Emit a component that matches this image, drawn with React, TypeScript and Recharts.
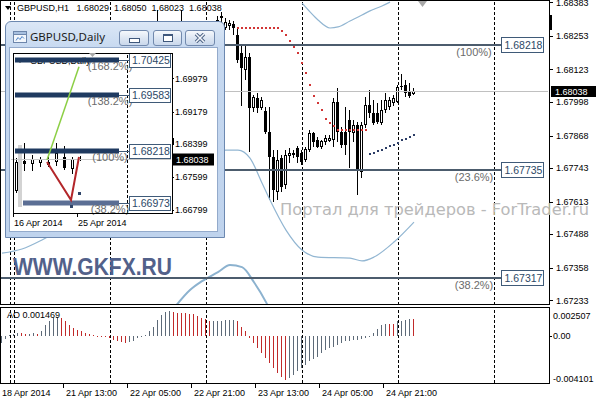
import React from 'react'
import { ComposedChart, Bar, Line, XAxis, YAxis, ReferenceLine, Cell } from 'recharts'

const FONT = '"Liberation Sans", Arial, sans-serif'
const UI_FONT = '"Noto Sans", "DejaVu Sans", sans-serif'

const H1_TITLE = 'GBPUSD,H1'
const DAILY_TITLE = 'GBPUSD,Daily'

// ---------- hourly chart (one slot per bar, the tail is chart shift) ----------
const SLOT_COUNT = 137
const FIRST_CANDLE_SLOT = 36

const opens = [
  1.68024, 1.68082, 1.68159, 1.68256, 1.68294, 1.68256, 1.68275, 1.68237, 1.68267, 1.68283,
  1.68275, 1.68244, 1.68256, 1.68229, 1.68244, 1.68237, 1.6826, 1.68275, 1.68291, 1.68322,
  1.68283, 1.68291, 1.68298, 1.68256, 1.68186, 1.68121, 1.68171, 1.67974, 1.68013, 1.67974,
  1.67963, 1.67881, 1.67785, 1.6765, 1.67781, 1.67677, 1.67789, 1.67793, 1.6782, 1.678,
  1.67773, 1.67812, 1.67877, 1.67851, 1.67824, 1.67843, 1.67847, 1.67851, 1.67997, 1.67881,
  1.67881, 1.67928, 1.67877, 1.67908, 1.67727, 1.67908, 1.67986, 1.67955, 1.67955, 1.67916,
  1.67966, 1.67978, 1.67993, 1.67997, 1.68055, 1.68063, 1.68036, 1.68029,
]
const highs = [
  1.68121, 1.68179, 1.68275, 1.68352, 1.68306, 1.68294, 1.68294, 1.68283, 1.68298, 1.68352,
  1.68291, 1.68275, 1.68275, 1.68264, 1.68267, 1.68275, 1.68294, 1.68306, 1.68329, 1.68345,
  1.68322, 1.68314, 1.6831, 1.68287, 1.68217, 1.68217, 1.68186, 1.68024, 1.68032, 1.68017,
  1.67978, 1.67978, 1.67812, 1.67812, 1.67793, 1.67812, 1.6782, 1.67812, 1.67827, 1.67812,
  1.67824, 1.67889, 1.67881, 1.67862, 1.67851, 1.6787, 1.6787, 1.68013, 1.68051, 1.67901,
  1.67978, 1.67966, 1.67928, 1.6792, 1.6792, 1.68017, 1.68044, 1.68005, 1.67993, 1.68005,
  1.68032, 1.68017, 1.68024, 1.68063, 1.68105, 1.68082, 1.68071, 1.6805,
]
const lows = [
  1.68005, 1.68063, 1.68152, 1.68237, 1.68237, 1.68217, 1.68198, 1.68217, 1.68244, 1.68256,
  1.68221, 1.68213, 1.68198, 1.68206, 1.68206, 1.68217, 1.68237, 1.68252, 1.68275, 1.68298,
  1.68275, 1.68275, 1.68256, 1.68148, 1.67982, 1.68082, 1.67804, 1.67959, 1.67955, 1.67966,
  1.67874, 1.67619, 1.67611, 1.67619, 1.6765, 1.67662, 1.67762, 1.67781, 1.67762, 1.67754,
  1.67766, 1.67804, 1.67824, 1.6782, 1.67816, 1.67831, 1.67843, 1.67824, 1.67843, 1.6782,
  1.67793, 1.67743, 1.67843, 1.67638, 1.67704, 1.67897, 1.67936, 1.67908, 1.67912, 1.67908,
  1.67955, 1.67966, 1.67982, 1.67993, 1.68044, 1.68017, 1.68013, 1.68023,
]
const closes = [
  1.68082, 1.68159, 1.68256, 1.68294, 1.68256, 1.68275, 1.68237, 1.68267, 1.68283, 1.68275,
  1.68244, 1.68256, 1.68229, 1.68244, 1.68237, 1.6826, 1.68275, 1.68291, 1.68314, 1.68329,
  1.68306, 1.68302, 1.68283, 1.68159, 1.68129, 1.68171, 1.67974, 1.68017, 1.67974, 1.68005,
  1.67881, 1.67785, 1.67658, 1.67773, 1.67669, 1.67793, 1.678, 1.678, 1.67785, 1.67766,
  1.67816, 1.67877, 1.67843, 1.67824, 1.67847, 1.67858, 1.67858, 1.67997, 1.67881, 1.67831,
  1.67831, 1.67881, 1.67908, 1.67735, 1.67908, 1.67986, 1.67955, 1.67916, 1.6792, 1.67966,
  1.68005, 1.68005, 1.68013, 1.68055, 1.68059, 1.68032, 1.6802, 1.68038,
]

// Awesome Oscillator, from slot 0
const aoValues = [
  -0.00064, -0.00029, 0.0001, 0.00015, 0.00023, 0.00021, 0.00019, 0.0002, 0.00022, 0.00016,
  0.00046, 0.00096, 0.00125, 0.00154, 0.00168, 0.00154, 0.00125, 0.00096, 0.00067, 0.00052,
  0.00038, 0.00023, 0.00012, 0.00005, 0.00002, -0.00002, -0.00008, -0.0002, -0.00035, -0.00043,
  -0.00052, -0.00058, -0.00052, -0.00041, -0.0002, -0.00006, 0.00009, 0.00038, 0.00081, 0.00139,
  0.00183, 0.00203, 0.00212, 0.00203, 0.002, 0.00197, 0.00196, 0.00194, 0.00186, 0.00174,
  0.00157, 0.00145, 0.0013, 0.00131, 0.00132, 0.00133, 0.00134, 0.00135, 0.00136, 0.00125,
  0.00081, 0.00038, -0.0002, -0.00064, -0.00107, -0.00151, -0.00194, -0.00238, -0.00281, -0.00325,
  -0.00362, -0.00383, -0.00368, -0.00339, -0.0031, -0.00281, -0.00252, -0.00223, -0.00203, -0.0018,
  -0.00151, -0.00122, -0.00107, -0.00093, -0.00078, -0.00064, -0.00049, -0.00041, -0.0004, -0.00039,
  -0.00029, -0.0002, -0.00006, 0.00023, 0.00058, 0.00096, 0.00104, 0.00102, 0.001, 0.00125,
  0.00133, 0.00139, 0.00149, 0.001469,
]
const AO_UP = '#5d6a78'
const AO_DOWN = '#c02a2a'

// Parabolic SAR dots
const SAR_DOWN_START = 59
const sarDownValues = [
  1.68283, 1.68283, 1.68283, 1.68283, 1.68283, 1.68283, 1.68283, 1.68283, 1.68283, 1.68283, 1.68283,
  1.68272, 1.68256, 1.68234, 1.68211, 1.68185, 1.68149, 1.6811, 1.68063, 1.6802, 1.67995, 1.67966,
  1.67931, 1.67915, 1.67905, 1.67889, 1.67889, 1.67889, 1.67889, 1.67889, 1.67889, 1.67889, 1.67889,
]
const SAR_UP_START = 92
const sarUpValues = [
  1.67797, 1.67802, 1.67808, 1.67814, 1.6782, 1.67827, 1.67833, 1.67841, 1.67849, 1.67854, 1.67862, 1.6787,
]

// Bollinger bands (read at a few bars, drawn as smooth curves)
const upperBandSlots = [75, 77, 79, 82, 84, 87, 90, 92, 95, 97]
const upperBandValues = [1.68379, 1.68345, 1.68314, 1.68283, 1.68287, 1.6831, 1.68333, 1.68349, 1.68368, 1.68383]
const lowerBandSlots = [0, 5, 10, 20, 30, 40, 50, 56, 59, 62, 65, 67, 71, 75, 79, 87, 90, 93, 98, 103]
const lowerBandValues = [
  1.67414, 1.6743, 1.67465, 1.67561, 1.67658, 1.67735, 1.67793, 1.67812, 1.67812, 1.67781,
  1.67685, 1.67619, 1.67503, 1.67426, 1.67399, 1.67395, 1.67384, 1.67399, 1.67457, 1.67534,
]
const outerBandSlots = [43, 47, 50, 54, 57, 60, 63, 66, 67]
const outerBandValues = [1.67202, 1.67272, 1.67306, 1.67341, 1.67368, 1.6736, 1.67302, 1.67225, 1.67194]

const daySeparatorSlots = [2, 3, 27, 51, 75, 99, 123]
const timeTickSlots = [0, 16, 32, 48, 64, 80, 96]
const timeTickLabels = ['18 Apr 2014', '21 Apr 13:00', '22 Apr 05:00', '22 Apr 21:00', '23 Apr 13:00', '24 Apr 05:00', '24 Apr 21:00']

const priceDomain = [1.67214, 1.68391]
const priceTicks = [1.68383, 1.68253, 1.68123, 1.67998, 1.67868, 1.67743, 1.67613, 1.67488, 1.67358, 1.67233]
const fibPrices = [1.68218, 1.67735, 1.67317]
const fibNames = ['(100%)', '(23.6%)', '(38.2%)']
const bidPrice = 1.68038

const aoDomain = [-0.004101, 0.002507]
const aoTicks = [0.002507, 0, -0.004101]

// ---------- daily chart (inset window) ----------
const DAILY_SLOT_COUNT = 20
const dailyOpens = [1.67263, 1.67982, 1.67909, 1.67941, 1.67966, 1.67965, 1.68086, 1.67781, 1.67997]
const dailyHighs = [1.68054, 1.68425, 1.68127, 1.68086, 1.68086, 1.68425, 1.68345, 1.68086, 1.68105]
const dailyLows = [1.67208, 1.67747, 1.67747, 1.67844, 1.67844, 1.67868, 1.67764, 1.67667, 1.6799]
const dailyCloses = [1.67965, 1.67909, 1.68023, 1.68023, 1.67886, 1.68183, 1.67805, 1.68023, 1.68038]
const dailyTickSlots = [0, 8]
const dailyTickLabels = ['16 Apr 2014', '25 Apr 2014']
const dailyDomain = [1.66724, 1.70594]
const dailyPriceTicks = [1.69979, 1.69179, 1.68399, 1.67599, 1.66799]
const dailyFibPrices = [1.70425, 1.69583, 1.68218, 1.66973]
const dailyFibNames = ['(168.2%)', '(138.2%)', '(100%)', '(38.2%)']
const dailyFibFrom = [0, 0, 0, 1]
const DAILY_FIB_TO = 13
const DAILY_SHIFT_SLOT = 14
const dailySarSlots = [7, 8]
const dailySarValues = [1.66901, 1.67201]
const greenSlots = [4, 8]
const greenValues = [1.68006, 1.70263]
const redSlots = [4, 7, 8]
const redValues = [1.67958, 1.67038, 1.68079]
const MARKER_SLOT = 1
const markerRange = [1.66869, 1.68369]

// ---------- rows ----------
const putSeries = (rows: any[], key: string, slots: number[], values: number[]) => {
  slots.forEach((s, j) => { rows[s][key] = values[j] })
}

const h1Rows: any[] = Array.from({ length: SLOT_COUNT }, (_, slot) => {
  const row: any = { slot }
  const k = slot - FIRST_CANDLE_SLOT
  if (k >= 0 && k < opens.length) {
    row.open = opens[k]
    row.high = highs[k]
    row.low = lows[k]
    row.close = closes[k]
    row.range = [lows[k], highs[k]]
  }
  if (slot < aoValues.length) row.ao = aoValues[slot]
  return row
})
putSeries(h1Rows, 'sarDown', sarDownValues.map((_, j) => SAR_DOWN_START + j), sarDownValues)
putSeries(h1Rows, 'sarUp', sarUpValues.map((_, j) => SAR_UP_START + j), sarUpValues)
putSeries(h1Rows, 'bandHigh', upperBandSlots, upperBandValues)
putSeries(h1Rows, 'bandLow', lowerBandSlots, lowerBandValues)
putSeries(h1Rows, 'bandOuter', outerBandSlots, outerBandValues)

// grey while the oscillator rises, red while it falls
const aoColors = h1Rows.map((r) => (r.slot === 0 || (r.ao ?? 0) >= (aoValues[r.slot - 1] ?? 0) ? AO_UP : AO_DOWN))

const dailyRows: any[] = Array.from({ length: DAILY_SLOT_COUNT }, (_, slot) => {
  const row: any = { slot }
  if (slot < dailyOpens.length) {
    row.open = dailyOpens[slot]
    row.high = dailyHighs[slot]
    row.low = dailyLows[slot]
    row.close = dailyCloses[slot]
    row.range = [dailyLows[slot], dailyHighs[slot]]
  }
  return row
})
dailyRows[MARKER_SLOT].marker = markerRange
putSeries(dailyRows, 'sar', dailySarSlots, dailySarValues)
putSeries(dailyRows, 'green', greenSlots, greenValues)
putSeries(dailyRows, 'red', redSlots, redValues)

// ---------- shapes ----------
const renderCandle = (props: any) => {
  const { x, y, width, height, payload } = props
  if (!payload || payload.high == null || y == null || isNaN(y)) return <g />
  const top = Math.min(y, y + height)
  const h = Math.abs(height)
  const span = payload.high - payload.low || 1e-9
  const toY = (v: number) => top + ((payload.high - v) / span) * h
  const col = Math.floor(x + width / 2)
  const b1 = Math.round(toY(Math.max(payload.open, payload.close)))
  const b2 = Math.round(toY(Math.min(payload.open, payload.close)))
  const bull = payload.close >= payload.open
  let body
  if (b2 - b1 < 2) body = <rect x={col - 1} y={b1} width={3} height={1} fill="#000" />
  else if (bull) body = <rect x={col - 0.5} y={b1 + 0.5} width={2} height={b2 - b1 - 1} fill="#fff" stroke="#000" />
  else body = <rect x={col - 1} y={b1} width={3} height={b2 - b1} fill="#000" />
  return (
    <g>
      <line x1={col + 0.5} x2={col + 0.5} y1={Math.round(top)} y2={Math.round(top + h)} stroke="#000" />
      {body}
    </g>
  )
}

const renderAoBar = (props: any) => {
  const { x, y, width, height, payload, fill } = props
  if (!payload || payload.ao == null || y == null || isNaN(y)) return <g />
  const col = Math.floor(x + width / 2)
  const t = Math.round(Math.min(y, y + height))
  const b = Math.round(Math.max(y, y + height))
  return <rect x={col} y={t} width={1} height={Math.max(b - t, 1)} fill={fill} stroke="none" />
}

const renderMarker = (props: any) => {
  const { x, y, width, height, payload } = props
  if (!payload || payload.marker == null || y == null || isNaN(y)) return <g />
  const col = Math.floor(x + width / 2)
  return <rect x={col - 2} y={Math.min(y, y + height)} width={4} height={Math.abs(height)} fill="#d3d3d3" />
}

const sarDot = (color: string, size: number) => (p: any) => {
  if (p.cy == null || p.value == null || isNaN(p.cy)) return <g key={`d${p.index}`} />
  return (
    <rect key={`d${p.index}`} x={Math.floor(p.cx) - Math.floor(size / 2)} y={Math.round(p.cy) - Math.floor(size / 2)}
      width={size} height={size} fill={color} />
  )
}

const separatorShape = (p: any) => {
  const x = Math.floor(p.x1) + 0.5
  return <line x1={x} x2={x} y1={p.y1} y2={p.y2} stroke="#000" strokeDasharray="3 2" />
}

const mainFibShape = (j: number) => (p: any) => {
  const y = Math.round(p.y1)
  const left = Math.min(p.x1, p.x2)
  const right = Math.max(p.x1, p.x2)
  const boxX = right - 46.5
  return (
    <g>
      <line x1={left} x2={boxX} y1={y} y2={y} stroke="#4c5c6d" strokeWidth={2} />
      <text x={right - 74} y={y + 11} textAnchor="middle" fontSize={11} fontFamily={FONT} fill="#6b6b6b">{fibNames[j]}</text>
      <rect x={boxX} y={y - 7.5} width={42} height={15} fill="#fff" stroke="#3f5a78" />
      <text x={boxX + 3} y={y + 4} fontSize={10.5} fontFamily={FONT} fill="#2c4866">{fibPrices[j].toFixed(5)}</text>
    </g>
  )
}

const mainBidShape = (p: any) => {
  const y = Math.round(p.y1) + 0.5
  const right = Math.max(p.x1, p.x2)
  return (
    <g>
      <line x1={Math.min(p.x1, p.x2)} x2={right} y1={y} y2={y} stroke="#c0c0c0" />
      <rect x={right + 3} y={y - 5.5} width={45} height={11} fill="#000" />
      <text x={right + 7} y={y + 3.5} fontSize={9} fontFamily={FONT} fill="#fff">{bidPrice.toFixed(5)}</text>
    </g>
  )
}

const dailyFibShape = (j: number) => (p: any) => {
  const y = Math.round(p.y1)
  const right = Math.max(p.x1, p.x2)
  return (
    <g>
      <line x1={Math.min(p.x1, p.x2)} x2={right} y1={y} y2={y} stroke={j === 3 ? '#5b6e94' : '#1f3a60'} strokeWidth={5} />
      <line x1={right} x2={right + 10} y1={y + 0.5} y2={y + 0.5} stroke="#3f5a78" />
      <text x={right - 9} y={y + 10} textAnchor="middle" fontSize={11} fontFamily={FONT} fill="#6b6b6b">{dailyFibNames[j]}</text>
      <rect x={right + 10.5} y={y - 6.5} width={41} height={14} fill="#fff" stroke="#3f5a78" />
      <text x={right + 13} y={y + 4} fontSize={10.5} fontFamily={FONT} fill="#2c4866">{dailyFibPrices[j].toFixed(5)}</text>
    </g>
  )
}

const dailyBidShape = (p: any) => {
  const y = Math.round(p.y1) + 0.5
  const right = Math.max(p.x1, p.x2)
  return (
    <g>
      <line x1={Math.min(p.x1, p.x2)} x2={right} y1={y} y2={y} stroke="#c8c8c8" />
      <rect x={right + 2} y={y - 6} width={41} height={12} fill="#000" />
      <text x={right + 5} y={y + 3.5} fontSize={9} fontFamily={FONT} fill="#fff">{bidPrice.toFixed(5)}</text>
    </g>
  )
}

// ---------- ticks ----------
const PriceTick = (props: any) => {
  const { x, y, payload } = props
  const yy = Math.round(y) + 0.5
  return (
    <g>
      <line x1={x + 2} x2={x + 5} y1={yy} y2={yy} stroke="#000" />
      <text x={x + 8} y={y + 3.5} fontSize={9} fontFamily={FONT} fill="#000">{payload.value.toFixed(5)}</text>
    </g>
  )
}

const DailyPriceTick = (props: any) => {
  const { x, y, payload } = props
  const yy = Math.round(y) + 0.5
  return (
    <g>
      <line x1={x + 1} x2={x + 3} y1={yy} y2={yy} stroke="#000" />
      <text x={x + 4} y={y + 3.5} fontSize={9} fontFamily={FONT} fill="#000">{payload.value.toFixed(5)}</text>
    </g>
  )
}

const AoTick = (props: any) => {
  const { x, y, payload } = props
  const v = payload.value
  const dy = v === aoTicks[0] ? 11.5 : v === aoTicks[2] ? -1.5 : 3.5
  return (
    <g>
      {v === 0 && <line x1={x + 2} x2={x + 4} y1={Math.round(y) + 0.5} y2={Math.round(y) + 0.5} stroke="#000" />}
      <text x={x + 5} y={y + dy} fontSize={9} fontFamily={FONT} fill="#000">{v === 0 ? '0.00' : v.toFixed(6)}</text>
    </g>
  )
}

const TimeTick = (props: any) => {
  const { x, y, payload } = props
  const label = timeTickLabels[timeTickSlots.indexOf(payload.value)]
  const tx = Math.floor(x) - 2.5
  return (
    <g>
      <line x1={tx} x2={tx} y1={y + 1} y2={y + 5} stroke="#000" />
      <text x={x} y={y + 13} fontSize={9} fontFamily={FONT} fill="#000">{label}</text>
    </g>
  )
}

const DailyTimeTick = (props: any) => {
  const { x, y, payload } = props
  const label = dailyTickLabels[dailyTickSlots.indexOf(payload.value)]
  const tx = Math.floor(x) - 1.5
  return (
    <g>
      <line x1={tx} x2={tx} y1={y} y2={y + 4} stroke="#000" />
      <text x={x - 1} y={y + 13} fontSize={9} fontFamily={FONT} fill="#000">{label}</text>
    </g>
  )
}

// ---------- window chrome ----------
function TitleButton({ left, width, children }: any) {
  return (
    <div style={{
      position: 'absolute', left, top: 8, width, height: 16, boxSizing: 'border-box',
      border: '1px solid #7189ad', borderRadius: 3,
      background: 'linear-gradient(#f5f8fc, #dbe5f2 55%, #cad8ec)',
      display: 'flex', alignItems: 'center', justifyContent: 'center',
    }}>{children}</div>
  )
}

function DailyWindow() {
  return (
    <div style={{
      position: 'absolute', left: 5, top: 21, width: 220, height: 217, boxSizing: 'border-box',
      border: '1px solid #6c88b0', borderRadius: '6px 6px 0 0',
      background: 'linear-gradient(#dbe7f6, #c7d9f0 26px, #bfd3ed)',
    }}>
      <svg width={14} height={14} style={{ position: 'absolute', left: 7, top: 8 }}>
        <rect x={0.5} y={1.5} width={13} height={11} fill="#f3f7fc" stroke="#6d86ab" />
        <rect x={0.5} y={1.5} width={13} height={3} fill="#a7c0e0" stroke="#6d86ab" />
        <polyline points="3,10.5 5,7.5 7,9.5 9,6.5 11,8.5" fill="none" stroke="#4a82c9" />
      </svg>
      <div style={{ position: 'absolute', left: 24, top: 7, lineHeight: '16px', fontSize: 11.5, fontFamily: UI_FONT, color: '#1c1c1c' }}>
        {DAILY_TITLE}
      </div>
      <TitleButton left={113} width={30}>
        <div style={{ width: 9, height: 3, border: '1px solid #3f587c', background: '#fff', marginTop: 5 }} />
      </TitleButton>
      <TitleButton left={147} width={29}>
        <div style={{ width: 8, height: 5, border: '1px solid #3f587c', borderTopWidth: 2, background: '#fff' }} />
      </TitleButton>
      <TitleButton left={179} width={30}>
        <svg width={12} height={10}>
          <path d="M2 1 L10 9 M10 1 L2 9" stroke="#4f6587" strokeWidth={3.5} />
          <path d="M2 1 L10 9 M10 1 L2 9" stroke="#f4f7fb" strokeWidth={1.5} />
        </svg>
      </TitleButton>
      <div style={{ position: 'absolute', left: 4, top: 26, width: 207, height: 183, background: '#fff', boxShadow: '0 0 0 1px #93aacb', overflow: 'hidden' }}>
        <svg width={12} height={8} style={{ position: 'absolute', left: 6, top: 9 }}>
          <polygon points="1,2 7,2 4,6" fill="#000" />
        </svg>
        <div style={{ position: 'absolute', left: 20, top: 8, fontSize: 9, lineHeight: '11px', fontFamily: FONT, color: '#000' }}>{DAILY_TITLE}</div>
        <div style={{ position: 'absolute', left: 0, top: 0 }}>
          <ComposedChart width={207} height={183} data={dailyRows} margin={{ top: 5, right: 0, bottom: 0, left: 1 }} barGap={0} barCategoryGap={0}>
            <XAxis dataKey="slot" type="category" ticks={dailyTickSlots} interval={0} axisLine={false} tickLine={false}
              tickSize={0} tickMargin={0} height={18} tick={<DailyTimeTick />} />
            <YAxis orientation="right" domain={dailyDomain} ticks={dailyPriceTicks} interval={0} allowDataOverflow width={46}
              axisLine={false} tickLine={false} tickSize={0} tickMargin={0} tick={<DailyPriceTick />} />
            <Bar dataKey="marker" barSize={8} shape={renderMarker} isAnimationActive={false} />
            <ReferenceLine y={bidPrice} shape={dailyBidShape} />
            <ReferenceLine x={DAILY_SHIFT_SLOT} shape={separatorShape} />
            <Bar dataKey="range" barSize={8} shape={renderCandle} isAnimationActive={false} />
            {dailyFibPrices.map((p, j) => (
              <ReferenceLine key={p} segment={[{ x: dailyFibFrom[j], y: p }, { x: DAILY_FIB_TO, y: p }]} shape={dailyFibShape(j)} />
            ))}
            <Line dataKey="green" connectNulls stroke="#8ccf45" strokeWidth={1.5} dot={false} activeDot={false} isAnimationActive={false} />
            <Line dataKey="red" connectNulls stroke="#b3262a" strokeWidth={2} dot={false} activeDot={false} isAnimationActive={false} />
            <Line dataKey="sar" stroke="none" dot={sarDot('#2f4468', 3)} activeDot={false} isAnimationActive={false} />
          </ComposedChart>
        </div>
        <div style={{ position: 'absolute', left: 3, top: 5, width: 160, height: 161, boxSizing: 'border-box', border: '1px solid #000' }} />
        <svg width={207} height={183} style={{ position: 'absolute', left: 0, top: 0 }}>
          <polygon points="79,5 86,5 82.5,9" fill="#a8a8a8" />
          <rect x={162} y={90} width={2} height={6} fill="#000" />
        </svg>
      </div>
    </div>
  )
}

export default function App() {
  const lastK = opens.length - 1
  const header = `${H1_TITLE}   ${opens[lastK].toFixed(5)}  ${highs[lastK].toFixed(5)}  ${lows[lastK].toFixed(5)}  ${closes[lastK].toFixed(5)}`
  return (
    <div style={{ position: 'absolute', left: 0, top: 0, width: 596, height: 400, background: '#fff', overflow: 'hidden' }}>
      {/* main hourly window */}
      <div style={{ position: 'absolute', left: 0, top: 0 }}>
        <ComposedChart width={596} height={305} data={h1Rows} margin={{ top: 0, right: 0, bottom: 0, left: 0 }} barGap={0} barCategoryGap={0}>
          <XAxis dataKey="slot" type="category" hide />
          <YAxis orientation="right" domain={priceDomain} ticks={priceTicks} interval={0} allowDataOverflow width={48}
            axisLine={false} tickLine={false} tickSize={0} tickMargin={0} tick={<PriceTick />} />
          {daySeparatorSlots.map((s) => <ReferenceLine key={s} x={s} shape={separatorShape} />)}
          <ReferenceLine y={bidPrice} shape={mainBidShape} />
          <Line dataKey="bandLow" type="monotone" connectNulls stroke="#92b6d2" strokeWidth={1.2} dot={false} activeDot={false} isAnimationActive={false} />
          <Line dataKey="bandOuter" type="monotone" connectNulls stroke="#8cb2cf" strokeWidth={2} dot={false} activeDot={false} isAnimationActive={false} />
          <Line dataKey="bandHigh" type="monotone" connectNulls stroke="#92b6d2" strokeWidth={1.2} dot={false} activeDot={false} isAnimationActive={false} />
          <Bar dataKey="range" barSize={4} shape={renderCandle} isAnimationActive={false} />
          {fibPrices.map((p, j) => <ReferenceLine key={p} y={p} shape={mainFibShape(j)} />)}
          <Line dataKey="sarDown" stroke="none" dot={sarDot('#d13535', 2)} activeDot={false} isAnimationActive={false} />
          <Line dataKey="sarUp" stroke="none" dot={sarDot('#2c3d66', 2)} activeDot={false} isAnimationActive={false} />
        </ComposedChart>
      </div>
      <div style={{ position: 'absolute', left: 0, top: 0, width: 550, height: 305, boxSizing: 'border-box', border: '1px solid #000' }} />

      {/* AO window */}
      <div style={{ position: 'absolute', left: 0, top: 305 }}>
        <ComposedChart width={596} height={95} data={h1Rows} margin={{ top: 2, right: 0, bottom: 0, left: 0 }} barGap={0} barCategoryGap={0}>
          <XAxis dataKey="slot" type="category" ticks={timeTickSlots} interval={0} axisLine={false} tickLine={false}
            tickSize={0} tickMargin={0} height={17} tick={<TimeTick />} />
          <YAxis orientation="right" domain={aoDomain} ticks={aoTicks} interval={0} allowDataOverflow width={48}
            axisLine={false} tickLine={false} tickSize={0} tickMargin={0} tick={<AoTick />} />
          {daySeparatorSlots.map((s) => <ReferenceLine key={s} x={s} shape={separatorShape} />)}
          <Bar dataKey="ao" barSize={4} shape={renderAoBar} isAnimationActive={false}>
            {aoColors.map((c, i) => <Cell key={i} fill={c} />)}
          </Bar>
        </ComposedChart>
      </div>
      <div style={{ position: 'absolute', left: 0, top: 307, width: 550, height: 77, boxSizing: 'border-box', border: '1px solid #000' }} />
      <div style={{ position: 'absolute', left: 7, top: 310, fontSize: 9, lineHeight: '11px', fontFamily: FONT, color: '#000' }}>
        {`AO ${aoValues[aoValues.length - 1].toFixed(6)}`}
      </div>

      {/* chart objects: captions, shift marker */}
      <svg width={596} height={400} style={{ position: 'absolute', left: 0, top: 0, pointerEvents: 'none' }}>
        <text x={280} y={215} fontSize={15} fontFamily='"DejaVu Sans", sans-serif' fill="#b9b9b9" textLength={309} lengthAdjust="spacingAndGlyphs">
          Портал для трейдеров - ForTrader.ru
        </text>
        <text x={13} y={275} fontSize={23} fontWeight="bold" fontFamily={FONT} fill="#52618a" textLength={159} lengthAdjust="spacingAndGlyphs">
          WWW.GKFX.RU
        </text>
        <polygon points="418,1 427,1 422.5,7" fill="#a8a8a8" />
        <rect x={549} y={15} width={3} height={15} fill="#000" />
        <polygon points="5,6 11,6 8,10" fill="#000" />
      </svg>
      <div style={{ position: 'absolute', left: 17, top: 3, fontSize: 9, lineHeight: '11px', fontFamily: FONT, color: '#000', whiteSpace: 'pre' }}>
        {header}
      </div>

      <DailyWindow />
    </div>
  )
}
